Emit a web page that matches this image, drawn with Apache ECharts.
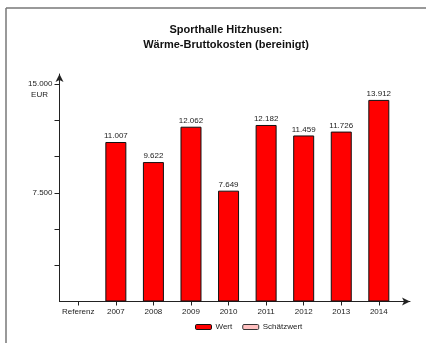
<!DOCTYPE html>
<html><head><meta charset="utf-8">
<script src="https://cdn.jsdelivr.net/npm/echarts@6/dist/echarts.min.js"></script>
<style>html,body{margin:0;padding:0;background:#fff}#c{width:426px;height:343px}</style>
</head><body><div id="c"></div>
<script>
const categories = ['Referenz','2007','2008','2009','2010','2011','2012','2013','2014'];
const wertValues = [null, 11007, 9622, 12062, 7649, 12182, 11459, 11726, 13912];
const schaetzValues = [null, null, null, null, null, null, null, null, null];
const yTickValues = [2500, 5000, 7500, 10000, 12500, 15000];
const yLabelValues = [7500, 15000];

function fmt(v){ return String(Math.round(v)).replace(/\B(?=(\d{3})+(?!\d))/g, '.'); }
const FONT = '"Liberation Sans", Arial, sans-serif';
const catIdx = categories.map((c,i)=>i);

const chart = echarts.init(document.getElementById('c'), null, {renderer:'canvas'});
chart.setOption({
  animation: false,
  backgroundColor: '#fff',
  textStyle: {fontFamily: FONT},
  title: {
    text: 'Sporthalle Hitzhusen:\nWärme-Bruttokosten (bereinigt)',
    left: 221, top: 17, textAlign: 'center',
    textStyle: {fontFamily: FONT, fontSize: 11, fontWeight: 'bold', color: '#111', lineHeight: 15}
  },
  legend: {
    left: 190, top: 318, itemWidth: 16, itemHeight: 5, itemGap: 10,
    textStyle: {fontFamily: FONT, fontSize: 8, color: '#222', padding: [0,0,0,-1]},
    data: [
      {name: 'Wert', itemStyle: {color: '#ff0000', borderColor: '#111', borderWidth: 1}},
      {name: 'Schätzwert', itemStyle: {color: '#ffc0c0', borderColor: '#333', borderWidth: 1}}
    ]
  },
  grid: {left: 59.5, right: 16, top: 74, bottom: 41.5, containLabel: false},
  xAxis: {
    type: 'value', min: -0.5, max: 8.83,
    axisLine: {show: true, onZero: false, symbol: ['none','arrow'], symbolSize: [6,8], lineStyle: {color: '#222', width: 1}},
    axisTick: {show: true, customValues: catIdx, length: 4, lineStyle: {color: '#222'}},
    axisLabel: {customValues: catIdx, formatter: v => categories[Math.round(v)] || '', fontSize: 8, color: '#222', margin: 6, fontFamily: FONT},
    splitLine: {show: false}
  },
  yAxis: {
    type: 'value', min: 0, max: 15700,
    name: 'EUR', nameLocation: 'end', nameGap: 0,
    nameTextStyle: {fontSize: 8, color: '#222', fontFamily: FONT, align: 'center', verticalAlign: 'top', padding: [17, 40, 0, 0]},
    axisLine: {show: true, onZero: false, symbol: ['none','arrow'], symbolSize: [6,8], lineStyle: {color: '#222', width: 1}},
    axisTick: {show: true, customValues: yTickValues, length: 5, lineStyle: {color: '#222'}},
    axisLabel: {customValues: yLabelValues, formatter: v => fmt(v), fontSize: 8, color: '#222', margin: 7, fontFamily: FONT},
    splitLine: {show: false}
  },
  series: [
    {
      name: 'Wert', type: 'bar', barWidth: 21,
      data: wertValues.map((v,i)=>[i, v]),
      itemStyle: {color: '#ff0000', borderColor: '#111', borderWidth: 1},
      label: {show: true, position: 'top', distance: 2, fontSize: 8, color: '#222', fontFamily: FONT, formatter: p => fmt(p.value[1])}
    },
    {
      name: 'Schätzwert', type: 'bar', barWidth: 21, barGap: '-100%',
      data: schaetzValues.map((v,i)=>[i, v]),
      itemStyle: {color: '#ffc0c0', borderColor: '#333', borderWidth: 1}
    }
  ],
  graphic: [
    {type: 'line', shape: {x1: 6, y1: 8, x2: 426, y2: 8}, style: {stroke: '#777', lineWidth: 1.5}},
    {type: 'line', shape: {x1: 6, y1: 8, x2: 6, y2: 343}, style: {stroke: '#777', lineWidth: 1.5}}
  ]
});
</script></body></html>
